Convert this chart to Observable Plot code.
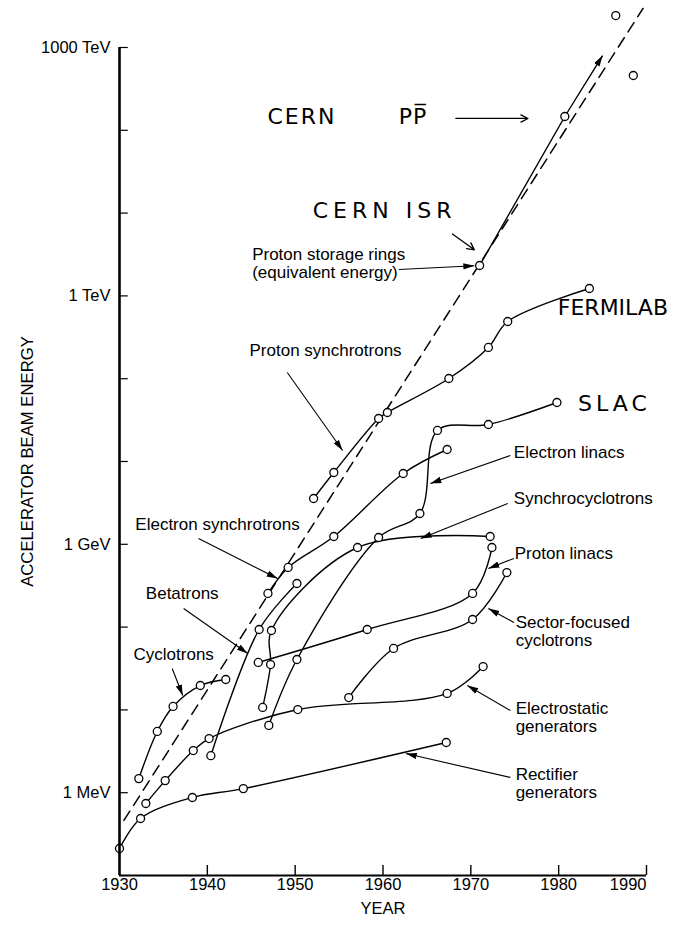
<!DOCTYPE html>
<html><head><meta charset="utf-8">
<script src="https://cdn.jsdelivr.net/npm/d3@7"></script>
<script src="https://cdn.jsdelivr.net/npm/@observablehq/plot@0.6"></script>
<style>
body{margin:0;background:#fff;}
#chart svg{display:block;}
</style></head><body><div id="chart"></div>
<script>
// ---- data: [year, beam energy in MeV] ----
const rectifierGenerators = [[1930.0,0.212],[1932.4,0.488],[1938.3,0.875],[1944.1,1.12],[1967.2,4.04]];
const electrostaticGenerators = [[1933.0,0.741],[1935.2,1.40],[1938.4,3.23],[1940.2,4.51],[1950.3,10.1],[1967.3,15.8],[1971.4,33.4]];
const cyclotrons = [[1932.2,1.48],[1934.3,5.49],[1936.1,11.0],[1939.2,19.7],[1942.1,23.3]];
const betatrons = [[1940.4,2.8],[1945.9,93.5],[1950.2,336]];
const electronSynchrotrons = [[1946.9,255],[1949.2,525],[1954.4,1242],[1962.3,7163],[1967.3,13960]];
const synchrocyclotrons = [[1946.3,10.7],[1947.2,35.3],[1947.3,91],[1957.1,915],[1972.2,1242]];
const electronLinacs = [[1947.0,6.5],[1950.2,40.6],[1959.5,1208],[1964.2,2355],[1966.2,23700],[1972.0,28000],[1979.8,51600]];
const protonLinacs = [[1945.8,37.4],[1958.2,93.5],[1970.2,255],[1972.4,915]];
const sectorFocusedCyclotrons = [[1956.1,14.1],[1961.2,55.2],[1970.2,123.6],[1974.1,456]];
const protonSynchrotrons = [[1952.1,3573],[1954.4,7365],[1959.5,33040],[1960.5,39070],[1967.5,100500],[1972.0,238300],[1974.2,490800],[1983.5,1.228e6]];
const protonStorageRings = [[1971.0,2.33e6],[1980.7,1.468e8]];
const storageRingExtension = [[1980.7,1.468e8],[1985.0,8.0e8]];
const laterColliders = [[1986.5,2.43e9],[1988.5,4.59e8]];
const trendLine = [[1930.5,0.462],[1989.6,2.96e9]];

const xTickYears = [1930,1940,1950,1960,1970,1980,1990];
const yTickValues = [1,10,100,1e3,1e4,1e5,1e6,1e7,1e8,1e9];
const yLabelValues = [1,1e3,1e6,1e9];
const yLabelTexts = ["1 MeV","1 GeV","1 TeV","1000 TeV"];

// ---- annotations (anchors in data space) ----
const seriesLabels = [
  {text:"Proton storage rings\n(equivalent energy)", year:1945.1, mev:2.46e6},
  {text:"Proton synchrotrons", year:1944.8, mev:2.19e5},
  {text:"Electron linacs", year:1974.9, mev:12850},
  {text:"Synchrocyclotrons", year:1974.9, mev:3573},
  {text:"Proton linacs", year:1975.0, mev:776},
  {text:"Sector-focused\ncyclotrons", year:1975.1, mev:88.5},
  {text:"Electrostatic\ngenerators", year:1975.1, mev:8.09},
  {text:"Rectifier\ngenerators", year:1975.1, mev:1.29},
  {text:"Electron synchrotrons", year:1931.8, mev:1734},
  {text:"Betatrons", year:1933.0, mev:255},
  {text:"Cyclotrons", year:1931.6, mev:46.8}
];
const labelArrows = [
  {y1:1961.8, e1:2.08e6, y2:1970.4, e2:2.31e6},
  {y1:1949.1, e1:1.19e5, y2:1955.4, e2:13580},
  {y1:1974.5, e1:11830, y2:1965.4, e2:5420},
  {y1:1974.2, e1:3110, y2:1964.3, e2:1175},
  {y1:1974.9, e1:675, y2:1972.0, e2:510},
  {y1:1974.9, e1:113.7, y2:1972.0, e2:168},
  {y1:1974.5, e1:9.84, y2:1969.6, e2:19.7},
  {y1:1974.5, e1:1.53, y2:1962.6, e2:2.97},
  {y1:1939.0, e1:1175, y2:1948.0, e2:386},
  {y1:1937.3, e1:168, y2:1944.6, e2:48},
  {y1:1936.0, e1:31.6, y2:1937.2, e2:14.9}
];
const handLabels = [
  {text:"CERN", year:1946.85, mev:1.43e8, ls:2},
  {text:"PP\u0305", year:1961.8, mev:1.43e8, ls:1},
  {text:"CERN ISR", year:1952.0, mev:1.07e7, ls:5},
  {text:"FERMILAB", year:1979.9, mev:7.2e5, ls:0},
  {text:"SLAC", year:1982.2, mev:5.0e4, ls:4}
];
const handArrows = [
  {y1:1968.3, e1:1.39e8, y2:1976.5, e2:1.39e8},
  {y1:1967.9, e1:5.6e6, y2:1970.4, e2:3.6e6}
];

const series = [
  ["Rectifier generators", rectifierGenerators],
  ["Electrostatic generators", electrostaticGenerators],
  ["Cyclotrons", cyclotrons],
  ["Betatrons", betatrons],
  ["Electron synchrotrons", electronSynchrotrons],
  ["Synchrocyclotrons", synchrocyclotrons],
  ["Electron linacs", electronLinacs],
  ["Proton linacs", protonLinacs],
  ["Sector-focused cyclotrons", sectorFocusedCyclotrons],
  ["Proton synchrotrons", protonSynchrotrons],
  ["Proton storage rings", protonStorageRings]
];
const rows = series.flatMap(([name, pts]) => pts.map(([year, mev]) => ({name, year, mev})));

const font = "'Liberation Sans', Arial, Helvetica, sans-serif";
const hand = "'DejaVu Sans', sans-serif";

// filled triangular arrowhead marker
function filledHead(color, context) {
  const doc = (context && context.document) || document;
  const ns = "http://www.w3.org/2000/svg";
  const m = doc.createElementNS(ns, "marker");
  m.setAttribute("viewBox", "-11 -4 12 8");
  m.setAttribute("markerWidth", "12");
  m.setAttribute("markerHeight", "8");
  m.setAttribute("markerUnits", "userSpaceOnUse");
  m.setAttribute("orient", "auto");
  m.setAttribute("refX", "0");
  m.setAttribute("refY", "0");
  const p = doc.createElementNS(ns, "path");
  p.setAttribute("d", "M-11,-3.2L0,0L-11,3.2Z");
  p.setAttribute("fill", color);
  p.setAttribute("stroke", "none");
  m.appendChild(p);
  return m;
}

const chart = Plot.plot({
  width: 679, height: 926,
  marginLeft: 119, marginRight: 33, marginTop: 47, marginBottom: 51,
  x: {domain: [1930, 1990], axis: null},
  y: {type: "log", domain: [0.1, 1e9], axis: null},
  style: {fontFamily: font, fontSize: "16px", color: "black", background: "white"},
  marks: [
    Plot.line(trendLine, {x: d => d[0], y: d => d[1], stroke: "black", strokeWidth: 1.5, strokeDasharray: "11,7"}),
    Plot.line(rows, {x: "year", y: "mev", z: "name", curve: "catmull-rom", stroke: "black", strokeWidth: 1.4}),
    Plot.link([storageRingExtension], {x1: d => d[0][0], y1: d => d[0][1], x2: d => d[1][0], y2: d => d[1][1], stroke: "black", strokeWidth: 1.4, markerEnd: filledHead}),
    Plot.link(labelArrows, {x1: "y1", y1: "e1", x2: "y2", y2: "e2", stroke: "black", strokeWidth: 1.1, markerEnd: filledHead}),
    Plot.arrow(handArrows, {x1: "y1", y1: "e1", x2: "y2", y2: "e2", stroke: "black", strokeWidth: 1.3, headLength: 9, headAngle: 55}),
    Plot.dot(rows, {x: "year", y: "mev", r: 4, fill: "white", stroke: "black", strokeWidth: 1.3}),
    Plot.dot(laterColliders, {x: d => d[0], y: d => d[1], r: 4, fill: "white", stroke: "black", strokeWidth: 1.3}),
    // axes
    Plot.ruleX([1930], {stroke: "black", strokeWidth: 2.6}),
    Plot.ruleY([0.1], {stroke: "black", strokeWidth: 2}),
    Plot.ruleY(yTickValues, {x1: 1930, x2: 1931, stroke: "black", strokeWidth: 1.2}),
    Plot.ruleX(xTickYears.slice(1), {y1: 0.1, y2: 0.132, stroke: "black", strokeWidth: 1.4}),
    Plot.text(yLabelValues, {y: d => d, frameAnchor: "left", dx: -9, textAnchor: "end", text: (d, i) => yLabelTexts[i], fontSize: 16.5}),
    Plot.text(xTickYears.slice(0, -1), {x: d => d, frameAnchor: "bottom", lineAnchor: "top", dy: 3, text: d => String(d), fontSize: 16.5}),
    Plot.text(xTickYears.slice(-1), {x: d => d, frameAnchor: "bottom", lineAnchor: "top", dy: 3, textAnchor: "end", text: d => String(d), fontSize: 16.5}),
    Plot.text(["YEAR"], {frameAnchor: "bottom", dy: 38, text: d => d, fontSize: 16.5}),
    Plot.text(["ACCELERATOR BEAM ENERGY"], {frameAnchor: "left", dx: -92, rotate: -90, textAnchor: "middle", text: d => d, fontSize: 16.7}),
    // labels
    Plot.text(seriesLabels, {x: "year", y: "mev", text: "text", textAnchor: "start", fontSize: 17, lineHeight: 1.06}),
    Plot.text(handLabels, {x: "year", y: "mev", text: "text", textAnchor: "start", fontSize: 22, fontFamily: hand, fill: "black"})
  ]
});

d3.select(chart).selectAll("text").each(function() {
  const h = handLabels.find(d => d.text === this.textContent);
  if (h) this.setAttribute("letter-spacing", h.ls);
});

document.getElementById("chart").appendChild(chart);
</script>
</body></html>
